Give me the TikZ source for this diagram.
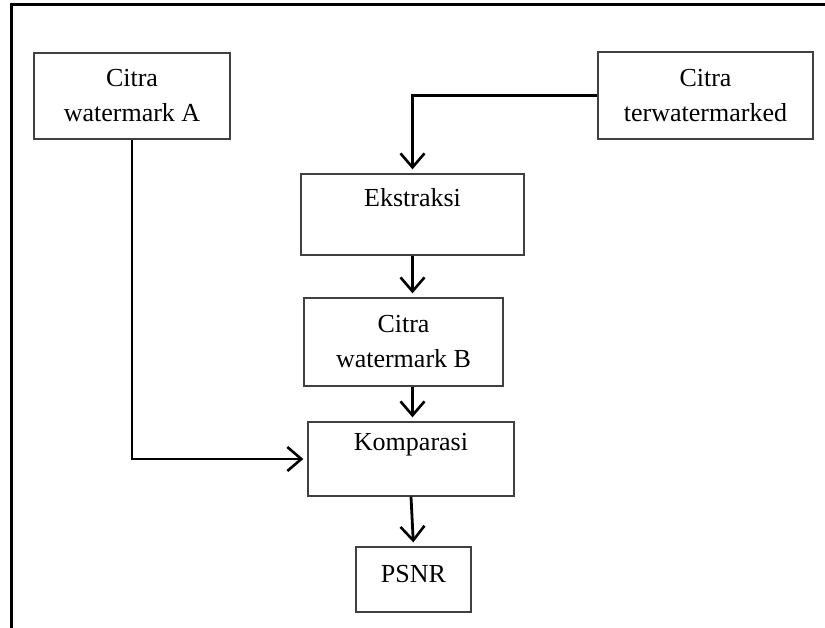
\documentclass[tikz,border=0pt]{standalone}
\usepackage{fontspec}
\setmainfont{Liberation Serif}
\usetikzlibrary{arrows.meta}
\begin{document}
\begin{tikzpicture}[x=1pt,y=-1pt,
  stepbox/.style={draw=black!75, line width=1.3pt, rectangle, align=center,
    inner sep=0pt, font=\fontsize{26}{35}\selectfont},
  flow/.style={line width=2.8pt, -{Straight Barb[length=14pt,width=24pt,line width=2.6pt]},
    shorten >=4pt}]
  \useasboundingbox (0,0) rectangle (825,628);
  % frame edges
  \draw[line width=3pt] (825,5) -- (11,5) -- (11,628);

  % process boxes
  \node[stepbox, minimum width=196pt, minimum height=86pt] (wa) at (132,96) {Citra\\watermark A};
  \node[stepbox, minimum width=215pt, minimum height=87pt] (tw) at (705.5,95.5) {Citra\\terwatermarked};
  \node[stepbox, minimum width=223pt, minimum height=81pt] (ek) at (412.5,214.5) {Ekstraksi\\\phantom{A}};
  \node[stepbox, minimum width=199pt, minimum height=88pt] (wb) at (403.5,342) {Citra\\watermark B};
  \node[stepbox, minimum width=206pt, minimum height=74pt] (ko) at (411,459) {Komparasi\\\phantom{A}};
  \node[stepbox, minimum width=115pt, minimum height=65pt, text height=17.8pt, text depth=12pt] (ps) at (413.5,579.5) {PSNR};

  % connectors
  \draw[flow] (tw.west) -| (ek.north);
  \draw[flow] (ek.south) -- (ek.south |- wb.north);
  \draw[flow] (ek.south |- wb.south) -- (ek.south |- ko.north);
  \draw[flow] (ko.south) -- (ps.north);
  \draw[flow] (wa.south) |- (ko.west);
\end{tikzpicture}
\end{document}
